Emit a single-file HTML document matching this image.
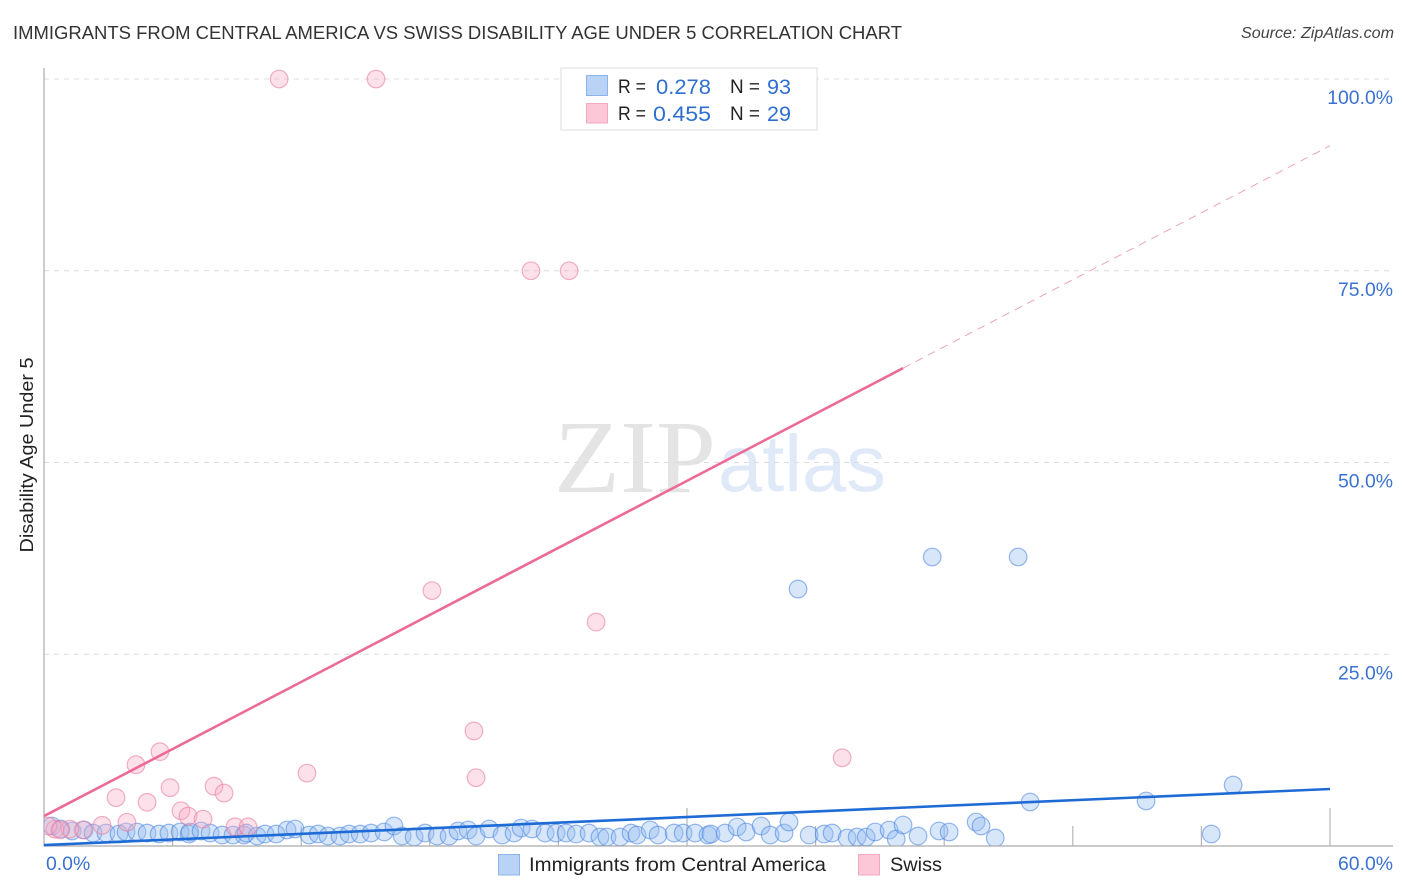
<!DOCTYPE html>
<html lang="en">
<head>
<meta charset="utf-8">
<title>Immigrants from Central America vs Swiss Disability Age Under 5 Correlation Chart</title>
<style>
html,body{margin:0;padding:0;background:#fff;width:1406px;height:892px;overflow:hidden}
svg{display:block;font-family:"Liberation Sans",sans-serif}
</style>
</head>
<body>
<svg id="chart" width="1406" height="892" viewBox="0 0 1406 892" xmlns="http://www.w3.org/2000/svg">
  <defs>
    <clipPath id="plot-clip"><rect x="44" y="60" width="1350" height="785.5"></rect></clipPath>
  </defs>
  <text x="13" y="39" font-size="18.5" fill="#333" textLength="889" lengthAdjust="spacingAndGlyphs">IMMIGRANTS FROM CENTRAL AMERICA VS SWISS DISABILITY AGE UNDER 5 CORRELATION CHART</text>
  <text x="1241" y="38" font-size="15.5" font-style="italic" fill="#444" textLength="153" lengthAdjust="spacingAndGlyphs">Source: ZipAtlas.com</text>

  <g>
    <text x="554" y="492" font-family="'Liberation Serif',serif" font-size="104" fill="#e4e4e4" textLength="162" lengthAdjust="spacingAndGlyphs">ZIP</text>
    <text x="718" y="491" font-size="80" fill="#dfe9f8" textLength="168" lengthAdjust="spacingAndGlyphs">atlas</text>
  </g>

  <g id="grid"></g>
  <g id="axes"></g>
  <g id="points" clip-path="url(#plot-clip)"></g>
  <g id="trends"></g>
  <g id="labels"></g>

  <text transform="translate(33,455) rotate(-90)" font-size="18" fill="#222" text-anchor="middle" textLength="195" lengthAdjust="spacingAndGlyphs">Disability Age Under 5</text>

  <g>
    <rect x="561" y="68" width="256" height="62" fill="#fff" stroke="#ddd" stroke-width="1"></rect>
    <rect x="586.5" y="75.5" width="21" height="20" fill="#b9d3f6" stroke="#8db4e8"></rect>
    <rect x="586.5" y="103.5" width="21" height="19.5" fill="#fcc8d8" stroke="#f2a8c0"></rect>
    <text x="618" y="93" font-size="19" fill="#222" textLength="28" lengthAdjust="spacingAndGlyphs">R =</text>
    <text x="656" y="94" font-size="21" fill="#2f6fd0" textLength="55" lengthAdjust="spacingAndGlyphs">0.278</text>
    <text x="730" y="93" font-size="19" fill="#222" textLength="30" lengthAdjust="spacingAndGlyphs">N =</text>
    <text x="767" y="94" font-size="21" fill="#2f6fd0" textLength="24" lengthAdjust="spacingAndGlyphs">93</text>
    <text x="618" y="120" font-size="19" fill="#222" textLength="28" lengthAdjust="spacingAndGlyphs">R =</text>
    <text x="653" y="121" font-size="21" fill="#2f6fd0" textLength="58" lengthAdjust="spacingAndGlyphs">0.455</text>
    <text x="730" y="120" font-size="19" fill="#222" textLength="30" lengthAdjust="spacingAndGlyphs">N =</text>
    <text x="767" y="121" font-size="21" fill="#2f6fd0" textLength="24" lengthAdjust="spacingAndGlyphs">29</text>
  </g>

  <g>
    <rect x="498.5" y="854.5" width="21" height="20.5" fill="#b9d3f6" stroke="#8db4e8"></rect>
    <text x="529" y="871" font-size="19.5" fill="#222" textLength="297" lengthAdjust="spacingAndGlyphs">Immigrants from Central America</text>
    <rect x="858.5" y="854.5" width="21" height="20.5" fill="#fcc8d8" stroke="#f2a8c0"></rect>
    <text x="890" y="871" font-size="19.5" fill="#222" textLength="52" lengthAdjust="spacingAndGlyphs">Swiss</text>
  </g>
</svg>

<script>
const yTickValues = [25, 50, 75, 100];
const yTickLabels = ["25.0%", "50.0%", "75.0%", "100.0%"];
const xTickValues = [6, 12, 18, 24, 30, 36, 42, 48, 54, 60];
const xMajorTicks = [30, 60];
const xEndLabels = ["0.0%", "60.0%"];

const blueX = [0.37,0.79,1.31,1.87,2.29,2.89,3.50,3.83,4.34,4.81,5.37,5.83,6.35,6.77,6.81,7.33,7.75,8.31,8.82,9.33,9.43,9.94,10.31,10.83,11.34,11.71,12.37,12.79,13.25,13.81,14.23,14.75,15.26,15.87,16.33,16.71,17.27,17.78,18.34,18.90,19.32,19.79,20.16,20.77,21.37,21.93,22.26,22.77,23.38,23.89,24.36,24.83,25.43,25.94,26.27,26.88,27.39,27.67,28.28,28.65,29.40,29.82,30.38,30.98,31.12,31.78,32.34,32.76,33.46,33.88,34.53,34.76,35.70,36.40,36.77,37.47,37.94,38.36,38.78,39.43,39.76,40.08,40.78,41.76,42.23,43.49,43.72,44.38,46.01,51.42,54.46,55.48,35.18,41.44,45.45];
const blueY = [2.61,2.22,1.96,2.09,1.69,1.69,1.56,1.83,1.83,1.69,1.56,1.69,1.83,1.56,1.83,1.96,1.69,1.43,1.43,1.43,1.69,1.30,1.56,1.56,2.09,2.22,1.43,1.56,1.30,1.30,1.56,1.56,1.69,1.83,2.61,1.30,1.17,1.69,1.30,1.30,1.96,2.09,1.30,2.22,1.43,1.69,2.35,2.22,1.69,1.69,1.69,1.56,1.69,1.17,1.17,1.17,1.69,1.43,2.09,1.43,1.69,1.69,1.69,1.43,1.56,1.69,2.48,1.83,2.61,1.43,1.69,3.13,1.43,1.56,1.69,1.04,1.17,1.17,1.83,2.09,0.91,2.74,1.30,1.96,1.83,3.13,2.61,1.04,5.74,5.87,1.56,7.95,33.5,37.68,37.68];

const pinkX = [10.97,15.49,22.72,24.50,18.10,25.76,20.06,20.16,37.24,12.27,5.41,4.29,3.36,4.81,5.88,6.39,6.72,7.42,7.93,8.40,8.91,9.52,3.87,2.71,1.82,1.21,0.51,0.19,0.75];
const pinkY = [100,100,75,75,33.3,29.2,15.0,8.9,11.5,9.5,12.3,10.6,6.3,5.7,7.6,4.6,3.9,3.5,7.8,6.9,2.5,2.5,3.1,2.7,2.1,2.2,2.2,2.6,2.1];

const blueTrendX = [0, 60];
const blueTrendY = [0.12, 7.43];
const pinkTrendX = [0, 40.08];
const pinkTrendY = [3.9, 62.3];
const pinkDashX = [40.08, 60];
const pinkDashY = [62.3, 91.3];

const NS = "http://www.w3.org/2000/svg";
const sx = v => 44 + v * (1330 - 44) / 60;
const sy = v => 846 - v * 7.67;
const mk = (tag, parent, attrs) => {
  const e = document.createElementNS(NS, tag);
  for (const k in attrs) e.setAttribute(k, attrs[k]);
  parent.appendChild(e);
  return e;
};

const grid = document.getElementById("grid");
const axes = document.getElementById("axes");
const pts = document.getElementById("points");
const trends = document.getElementById("trends");
const labels = document.getElementById("labels");

yTickValues.forEach((v, i) => {
  const g = mk("line", grid, {x1: 44, x2: 1393, y1: sy(v), y2: sy(v), stroke: "#dcdcdc", "stroke-width": 1, "stroke-dasharray": "5 5"});
  
  
  const t = mk("text", labels, {x: 1393, y: sy(v) + 25, "font-size": 19.4, fill: "#3b72d2", "text-anchor": "end"});
  t.textContent = yTickLabels[i];
  
  
});

const yAxis = mk("line", axes, {x1: 44, x2: 44, y1: 68, y2: 846.5, stroke: "#aaa", "stroke-width": 1.2});


const xAxis = mk("line", axes, {x1: 44, x2: 1393, y1: 846, y2: 846, stroke: "#aaa", "stroke-width": 1.2});



xTickValues.forEach(v => {
  const top = xMajorTicks.includes(v) ? 808 : 826;
  const t = mk("line", axes, {x1: sx(v), x2: sx(v), y1: top, y2: 846, stroke: "#b5b5b5", "stroke-width": 1.2});
  
  
});

const x0 = mk("text", labels, {x: 46, y: 870, "font-size": 19.4, fill: "#3b72d2"});
x0.textContent = xEndLabels[0];


const x1 = mk("text", labels, {x: 1393, y: 870, "font-size": 19.4, fill: "#3b72d2", "text-anchor": "end"});
x1.textContent = xEndLabels[1];



blueX.forEach((v, i) => {
  const c = mk("circle", pts, {cx: sx(v), cy: sy(blueY[i]), r: 8.8, fill: "rgba(150,190,240,0.38)", stroke: "rgba(70,130,225,0.55)", "stroke-width": 1.2});
  
  
});
pinkX.forEach((v, i) => {
  const c = mk("circle", pts, {cx: sx(v), cy: sy(pinkY[i]), r: 8.8, fill: "rgba(248,170,195,0.35)", stroke: "rgba(232,125,160,0.6)", "stroke-width": 1.2});
  
  
});

const bt = mk("line", trends, {x1: sx(blueTrendX[0]), y1: sy(blueTrendY[0]), x2: sx(blueTrendX[1]), y2: sy(blueTrendY[1]), stroke: "#1f6bd6", "stroke-width": 2.6});


const pt = mk("line", trends, {x1: sx(pinkTrendX[0]), y1: sy(pinkTrendY[0]), x2: sx(pinkTrendX[1]), y2: sy(pinkTrendY[1]), stroke: "#ec6a97", "stroke-width": 2.6});


const pd = mk("line", trends, {x1: sx(pinkDashX[0]), y1: sy(pinkDashY[0]), x2: sx(pinkDashX[1]), y2: sy(pinkDashY[1]), stroke: "#eba3bc", "stroke-width": 1, "stroke-dasharray": "8 6"});


</script>
</body>
</html>
